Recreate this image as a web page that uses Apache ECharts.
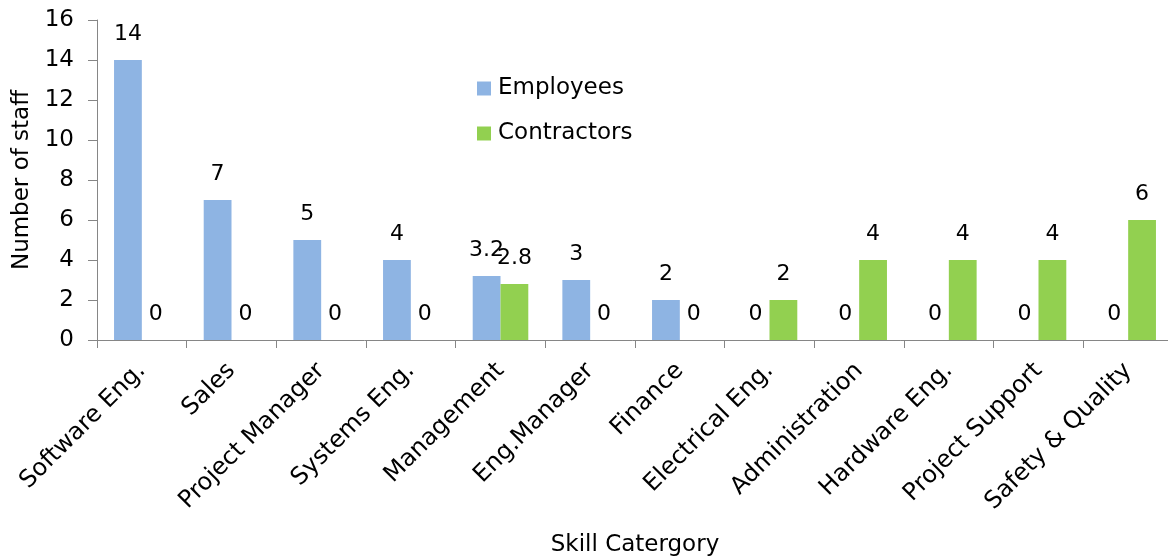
<!DOCTYPE html>
<html>
<head>
<meta charset="utf-8">
<script src="https://cdn.jsdelivr.net/npm/echarts@6/dist/echarts.min.js"></script>
<style>
  html, body { margin: 0; padding: 0; background: #fff; }
  #chart { width: 1168px; height: 557px; }
</style>
</head>
<body>
<div id="chart"></div>
<script>
// Staff headcount by skill category
const categories = [
  'Software Eng.', 'Sales', 'Project Manager', 'Systems Eng.', 'Management',
  'Eng.Manager', 'Finance', 'Electrical Eng.', 'Administration',
  'Hardware Eng.', 'Project Support', 'Safety & Quality'
];
const employees   = [14, 7, 5, 4, 3.2, 3, 2, 0, 0, 0, 0, 0];
const contractors = [0, 0, 0, 0, 2.8, 0, 0, 2, 4, 4, 4, 6];
const yTicks = { min: 0, max: 16, interval: 2 };

const FONT = 'DejaVu Sans';
const TEXT = '#000';

const chart = echarts.init(document.getElementById('chart'));
const valueLabel = {
  show: true,
  position: 'top',
  distance: 15,
  color: TEXT,
  fontFamily: FONT,
  fontSize: 22
};

chart.setOption({
  animation: false,
  textStyle: { fontFamily: FONT },
  // plot area runs slightly past the right edge of the canvas
  grid: {
    left: 97, top: 20, bottom: 217, width: 1076,
    containLabel: false,
    outerBoundsMode: 'none'
  },
  legend: {
    orient: 'vertical',
    left: 472,
    top: 72,
    itemWidth: 14,
    itemHeight: 14,
    itemGap: 22,
    icon: 'rect',
    textStyle: { color: TEXT, fontFamily: FONT, fontSize: 23, padding: [0, 0, 0, 2] },
    data: ['Employees', 'Contractors']
  },
  xAxis: {
    type: 'category',
    data: categories,
    name: 'Skill Catergory',
    nameLocation: 'middle',
    nameGap: 194,
    nameTextStyle: { color: TEXT, fontFamily: FONT, fontSize: 23 },
    axisLine: { lineStyle: { color: '#868686', width: 1 } },
    axisTick: { show: true, length: 8, lineStyle: { color: '#868686' } },
    axisLabel: { rotate: 45, color: TEXT, fontFamily: FONT, fontSize: 24, margin: 27, interval: 0 }
  },
  yAxis: {
    type: 'value',
    min: yTicks.min,
    max: yTicks.max,
    interval: yTicks.interval,
    name: 'Number of staff',
    nameLocation: 'middle',
    nameGap: 62,
    nameTextStyle: { color: TEXT, fontFamily: FONT, fontSize: 23 },
    splitLine: { show: false },
    axisLine: { show: true, lineStyle: { color: '#868686', width: 1 } },
    axisTick: { show: true, length: 9, lineStyle: { color: '#868686' } },
    axisLabel: { color: TEXT, fontFamily: FONT, fontSize: 23, margin: 23 }
  },
  series: [
    {
      name: 'Employees',
      type: 'bar',
      data: employees,
      barGap: '0%',
      barCategoryGap: '38%',
      itemStyle: { color: '#8EB4E3' },
      label: valueLabel
    },
    {
      name: 'Contractors',
      type: 'bar',
      data: contractors,
      barGap: '0%',
      barCategoryGap: '38%',
      itemStyle: { color: '#92D050' },
      label: valueLabel
    }
  ]
});
</script>
</body>
</html>
